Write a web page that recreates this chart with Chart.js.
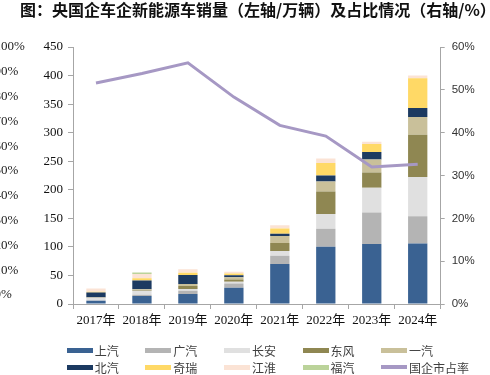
<!DOCTYPE html>
<html><head><meta charset="utf-8">
<script src="https://cdn.jsdelivr.net/npm/chart.js@4.4.1/dist/chart.umd.min.js"></script>
<style>
body{margin:0;background:#fff}
#wrap{position:relative;width:490px;height:375px;background:#fff;overflow:hidden}
#title{position:absolute;left:20px;top:0px;font:bold 16px "Noto Sans CJK SC";line-height:19px;white-space:nowrap;color:#111}
#c{position:absolute;left:0;top:0}
.li{position:absolute;height:14px;display:flex;align-items:center;font:12px "Noto Sans CJK SC";color:#404040;white-space:nowrap}
.sw{display:inline-block;width:26px;height:5px;margin-right:2px}
</style></head>
<body><div id="wrap">
<canvas id="c" width="490" height="375"></canvas>
<div id="title">图：央国企车企新能源车销量（左轴/万辆）及占比情况（右轴/%）</div>
<div id="legend"></div>
</div>
<script>
const categories = ['2017年','2018年','2019年','2020年','2021年','2022年','2023年','2024年'];
const shangqi   = [5.5, 14, 17.5, 28.5, 70, 100.2, 105, 106];
const guangqi   = [0.5, 2, 5.8, 7.5, 14.5, 31.5, 55.4, 47.7];
const changan   = [5, 7, 3, 3, 8.2, 25.7, 43, 68.7];
const dongfeng  = [0.5, 1.5, 5.2, 4, 14, 39.7, 26.9, 74.1];
const yiqi      = [0.5, 1.5, 3.5, 4, 12.2, 17.5, 22.7, 30.8];
const beiqi     = [8, 15, 15.7, 3.5, 4, 10.5, 13.3, 15.7];
const qirui     = [1.5, 4.2, 4, 3, 9.4, 22, 14, 52.5];
const jianghuai = [5.5, 7.5, 6, 3, 5.8, 7.7, 4, 4.7];
const fuqi      = [0, 2.3, 0, 0, 0, 0, 0, 0];
const share     = [51.6, 53.8, 56.3, 48.3, 41.7, 39.2, 32.0, 32.6];
const leftTicks = [0, 450, 50];
const rightTicks = [0, 60, 10];
const ghostTicks = ['100%','90%','80%','70%','60%','50%','40%','30%','20%','10%','0%'];

const barSeries = [
  ['上汽', shangqi, '#3A6292'],
  ['广汽', guangqi, '#B4B4B4'],
  ['长安', changan, '#E0E0E0'],
  ['东风', dongfeng, '#8F8752'],
  ['一汽', yiqi, '#C9C09A'],
  ['北汽', beiqi, '#1C3A61'],
  ['奇瑞', qirui, '#FFD966'],
  ['江淮', jianghuai, '#FBE3D5'],
  ['福汽', fuqi, '#BBD39A']
];
const datasets = barSeries.map(([label, data, color]) => ({
  type:'bar', label, data, backgroundColor: color, borderWidth:0,
  stack:'s', yAxisID:'y', order:1, barPercentage:0.42, categoryPercentage:1
}));
datasets.push({type:'line', label:'国企市占率', data: share, borderColor:'#A698C4', backgroundColor:'#A698C4',
  borderWidth:3, pointRadius:0, tension:0, yAxisID:'y1', order:0});

const axisColor = '#A6A6A6';
const ghostPlugin = {
  id:'ghost',
  afterDraw(chart){
    const ctx = chart.ctx, a = chart.chartArea;
    ctx.save();
    ctx.font = '13px "Liberation Serif"';
    ctx.fillStyle = '#222';
    ctx.textAlign = 'left';
    ctx.textBaseline = 'middle';
    const span = (a.bottom - a.top) * 0.965;
    ghostTicks.forEach((t,i)=>{
      ctx.fillText(t, -5.5, a.top + i*span/(ghostTicks.length-1));
    });
    ctx.restore();
  }
};

const chart = new Chart(document.getElementById('c'), {
  data:{labels:categories, datasets},
  options:{
    responsive:false, animation:false, devicePixelRatio:1,
    layout:{padding:{top:47, bottom:41, left:0, right:0}},
    plugins:{legend:{display:false}, title:{display:false}, tooltip:{enabled:false}},
    scales:{
      x:{stacked:true, offset:true,
        grid:{display:true, drawOnChartArea:false, drawTicks:true, tickLength:5, color:axisColor, offset:true},
        border:{display:true, color:axisColor, width:1},
        ticks:{color:'#111', padding:4, font:{family:'"Liberation Serif", "Noto Sans CJK SC"', size:13}, maxRotation:0},
        afterFit(s){ s.height = 30; }
      },
      y:{stacked:true, position:'left', min:leftTicks[0], max:leftTicks[1],
        grid:{drawOnChartArea:false, drawTicks:true, tickLength:5, color:axisColor},
        border:{display:true, color:axisColor, width:1},
        ticks:{stepSize:leftTicks[2], color:'#111', padding:5, font:{family:'"Liberation Serif"', size:13}},
        afterFit(s){ s.width = 73; }
      },
      y1:{position:'right', min:rightTicks[0], max:rightTicks[1],
        grid:{drawOnChartArea:false, drawTicks:true, tickLength:4, color:axisColor},
        border:{display:true, color:axisColor, width:1},
        ticks:{stepSize:rightTicks[2], color:'#333', padding:7, font:{family:'"Liberation Sans"', size:11.5}, callback:v=>v+'%'},
        afterFit(s){ s.width = 49.3; }
      }
    }
  },
  plugins:[ghostPlugin]
});

// legend built from the chart's datasets
const lg = document.getElementById('legend');
chart.data.datasets.forEach((ds,i)=>{
  const col = i % 5, row = Math.floor(i/5);
  const d = document.createElement('div');
  d.className = 'li';
  d.style.left = (66.7 + col*78.6) + 'px';
  d.style.top = (343 + row*17.3) + 'px';
  const sw = document.createElement('span');
  sw.className = 'sw';
  sw.style.background = ds.type === 'line' ? ds.borderColor : ds.backgroundColor;
  if (ds.type === 'line') { sw.style.height = '4px'; }
  d.appendChild(sw);
  d.appendChild(document.createTextNode(ds.label));
  lg.appendChild(d);
});
</script></body></html>
